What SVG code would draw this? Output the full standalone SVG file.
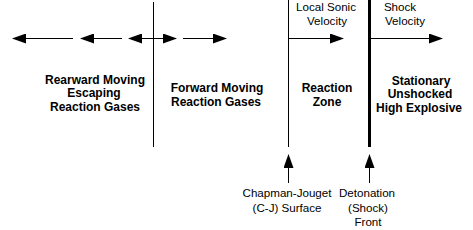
<svg xmlns="http://www.w3.org/2000/svg" width="473" height="230" viewBox="0 0 473 230">
<defs>
<marker id="ah" markerUnits="userSpaceOnUse" markerWidth="14" markerHeight="10" refX="13" refY="5" orient="auto">
<path d="M0,0 L14,5 L0,10 Z" fill="#000"/>
</marker>
</defs>
<style>
.b{font-family:"Liberation Sans",Arial,sans-serif;font-size:12px;font-weight:bold;text-anchor:middle;fill:#000}
.n{font-family:"Liberation Sans",Arial,sans-serif;font-size:11.6px;text-anchor:middle;fill:#000}
.c{stroke:#000;stroke-width:1;fill:none}
</style>
<rect width="473" height="230" fill="#fff"/>
<g id="boundaries">
<line class="c" x1="153.5" y1="2" x2="153.5" y2="147"/>
<line class="c" x1="288.5" y1="0" x2="288.5" y2="147"/>
<line x1="369.5" y1="0" x2="369.5" y2="147" stroke="#000" stroke-width="3"/>
</g>
<g id="connectors">
<line class="c" x1="73" y1="38.5" x2="13" y2="38.5" marker-end="url(#ah)"/>
<line class="c" x1="122" y1="38.5" x2="81" y2="38.5" marker-end="url(#ah)"/>
<line class="c" x1="153" y1="38.5" x2="129" y2="38.5" marker-end="url(#ah)"/>
<line class="c" x1="154" y1="38.5" x2="176" y2="38.5" marker-end="url(#ah)"/>
<line class="c" x1="183" y1="38.5" x2="226" y2="38.5" marker-end="url(#ah)"/>
<line class="c" x1="289" y1="38.5" x2="343" y2="38.5" marker-end="url(#ah)"/>
<line class="c" x1="371" y1="38.5" x2="442" y2="38.5" marker-end="url(#ah)"/>
<line class="c" x1="288.5" y1="183" x2="288.5" y2="155" marker-end="url(#ah)"/>
<line class="c" x1="369.5" y1="183" x2="369.5" y2="155" marker-end="url(#ah)"/>
</g>
<g id="rearward">
<text class="b" x="95" y="84">Rearward Moving</text>
<text class="b" x="94" y="97">Escaping</text>
<text class="b" x="95" y="111">Reaction Gases</text>
</g>
<g id="forward">
<text class="b" x="217" y="92">Forward Moving</text>
<text class="b" x="216" y="106">Reaction Gases</text>
</g>
<g id="reaction-zone">
<text class="b" x="327" y="92">Reaction</text>
<text class="b" x="327" y="106">Zone</text>
</g>
<g id="stationary">
<text class="b" x="421" y="85">Stationary</text>
<text class="b" x="420" y="98">Unshocked</text>
<text class="b" x="419" y="112">High Explosive</text>
</g>
<g id="local-sonic">
<text class="n" x="326" y="11">Local Sonic</text>
<text class="n" x="327" y="25">Velocity</text>
</g>
<g id="shock-velocity">
<text class="n" x="400" y="11">Shock</text>
<text class="n" x="405" y="25">Velocity</text>
</g>
<g id="cj-surface">
<text class="n" x="287" y="197">Chapman-Jouget</text>
<text class="n" x="287" y="212">(C-J) Surface</text>
</g>
<g id="detonation-front">
<text class="n" x="367" y="197">Detonation</text>
<text class="n" x="368" y="212">(Shock)</text>
<text class="n" x="368" y="226">Front</text>
</g>
</svg>
